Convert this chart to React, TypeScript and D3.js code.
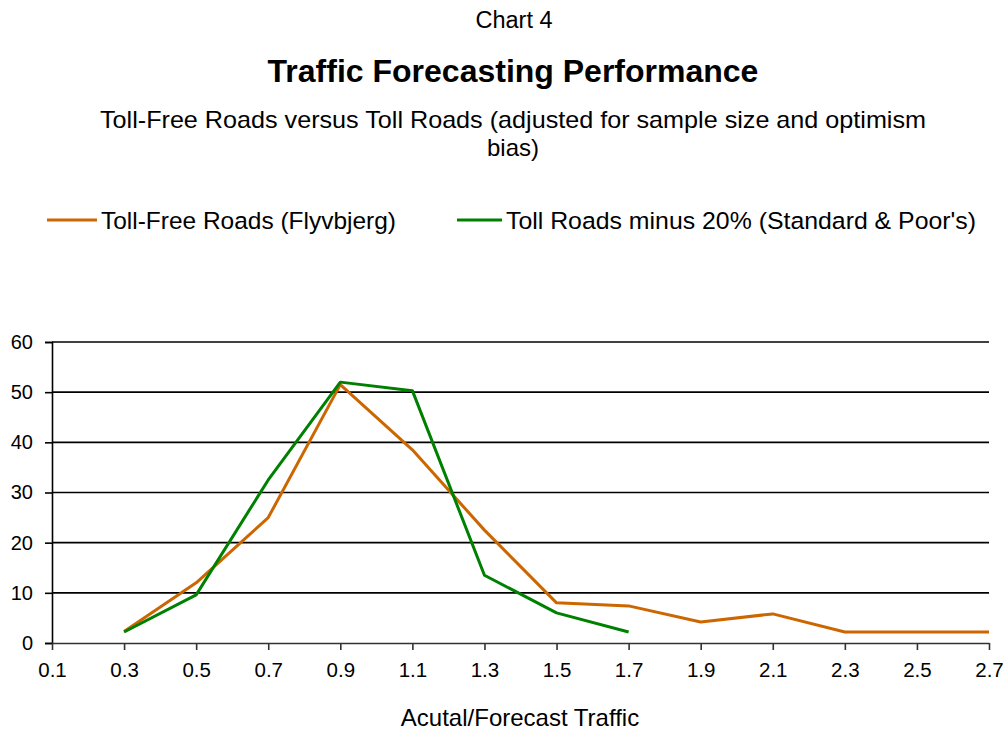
import React, { useRef, useEffect } from "react";
import * as d3 from "d3";

// x positions (Actual/Forecast ratio) and the share of projects, in percent
const ratioTicks = [0.1, 0.3, 0.5, 0.7, 0.9, 1.1, 1.3, 1.5, 1.7, 1.9, 2.1, 2.3, 2.5, 2.7];
const yTicks = [0, 10, 20, 30, 40, 50, 60];

const tollFreeX = [0.3, 0.5, 0.7, 0.9, 1.1, 1.3, 1.5, 1.7, 1.9, 2.1, 2.3, 2.5, 2.7];
const tollFreeY = [2.3, 12, 25, 51.5, 38.5, 22.5, 8, 7.4, 4.2, 5.8, 2.2, 2.2, 2.2];

const tollX = [0.3, 0.5, 0.7, 0.9, 1.1, 1.3, 1.5, 1.7];
const tollY = [2.2, 9.6, 32.5, 52, 50.3, 13.5, 6, 2.2];

const seriesNames = ["Toll-Free Roads (Flyvbjerg)", "Toll Roads minus 20% (Standard & Poor's)"];
const seriesColors = ["#cc6600", "#008000"];

const FONT = "'Liberation Sans', Arial, sans-serif";

const App = () => {
  const svgRef = useRef<SVGSVGElement>(null);

  useEffect(() => {
    const width = 1005;
    const height = 731;
    const svg = d3.select(svgRef.current);
    svg.selectAll("*").remove();
    svg.attr("width", width).attr("height", height);

    svg.append("rect").attr("width", width).attr("height", height).attr("fill", "#fff");

    // titles
    svg.append("text")
      .attr("x", 514).attr("y", 28)
      .attr("text-anchor", "middle")
      .attr("font-family", FONT).attr("font-size", 23.5)
      .text("Chart 4");
    svg.append("text")
      .attr("x", 513).attr("y", 82)
      .attr("text-anchor", "middle")
      .attr("font-family", FONT).attr("font-size", 32).attr("font-weight", "bold")
      .text("Traffic Forecasting Performance");
    const sub = svg.append("text")
      .attr("font-family", FONT).attr("font-size", 24);
    sub.append("tspan").attr("x", 100).attr("y", 128)
      .attr("textLength", 826).attr("lengthAdjust", "spacingAndGlyphs")
      .text("Toll-Free Roads versus Toll Roads (adjusted for sample size and optimism");
    sub.append("tspan").attr("x", 513).attr("y", 156)
      .attr("text-anchor", "middle").text("bias)");

    // legend
    const legendX = [[47, 97], [457, 502]];
    const legendW = [295, 470];
    seriesNames.forEach((name, i) => {
      const g = svg.append("g");
      g.append("line")
        .attr("x1", legendX[i][0]).attr("x2", legendX[i][1])
        .attr("y1", 220).attr("y2", 220)
        .attr("stroke", seriesColors[i]).attr("stroke-width", 3);
      g.append("text")
        .attr("x", legendX[i][1] + 4).attr("y", 228.5)
        .attr("font-family", FONT).attr("font-size", 24.5)
        .attr("textLength", legendW[i]).attr("lengthAdjust", "spacingAndGlyphs")
        .text(name);
    });

    const x = d3.scaleLinear().domain([0.1, 2.7]).range([52, 989]);
    const y = d3.scaleLinear().domain([0, 60]).range([643, 342]);

    // gridlines
    svg.append("g")
      .selectAll("line")
      .data(yTicks.filter(t => t > 0))
      .enter()
      .append("line")
      .attr("x1", x(0.1)).attr("x2", x(2.7))
      .attr("y1", d => y(d)).attr("y2", d => y(d))
      .attr("stroke", "#000").attr("stroke-width", 1.6);

    // y axis
    const yAxis = d3.axisLeft(y).tickValues(yTicks).tickSize(7).tickPadding(12);
    const yg = svg.append("g").attr("transform", `translate(${x(0.1)},0)`).call(yAxis);
    yg.select(".domain").attr("stroke", "#000").attr("stroke-width", 1.6);
    yg.selectAll(".tick line").attr("stroke", "#000").attr("stroke-width", 1.6);
    yg.selectAll("text").attr("font-family", FONT).attr("font-size", 20).attr("fill", "#000");

    // x axis
    const xAxis = d3.axisBottom(x).tickValues(ratioTicks).tickFormat(d3.format(".1f"))
      .tickSize(7).tickPadding(12).tickSizeOuter(0);
    const xg = svg.append("g").attr("transform", `translate(0,${y(0)})`).call(xAxis);
    xg.select(".domain").attr("stroke", "#333").attr("stroke-width", 1.6);
    xg.selectAll(".tick line").attr("stroke", "#333").attr("stroke-width", 1.6);
    xg.selectAll("text").attr("font-family", FONT).attr("font-size", 20.5).attr("fill", "#000");

    svg.append("text")
      .attr("x", 520).attr("y", 726)
      .attr("text-anchor", "middle")
      .attr("font-family", FONT).attr("font-size", 24)
      .text("Acutal/Forecast Traffic");

    // series
    const line = d3.line<[number, number]>()
      .x(d => x(d[0]))
      .y(d => y(d[1]));
    const series: [number, number][][] = [
      tollFreeX.map((v, i) => [v, tollFreeY[i]]),
      tollX.map((v, i) => [v, tollY[i]]),
    ];
    svg.append("g")
      .selectAll("path")
      .data(series)
      .enter()
      .append("path")
      .attr("d", d => line(d))
      .attr("fill", "none")
      .attr("stroke", (d, i) => seriesColors[i])
      .attr("stroke-width", 3)
      .attr("stroke-linejoin", "round");
  }, []);

  return (
    <svg ref={svgRef} style={{ position: "absolute", left: 0, top: 0 }}></svg>
  );
};

export default App;
